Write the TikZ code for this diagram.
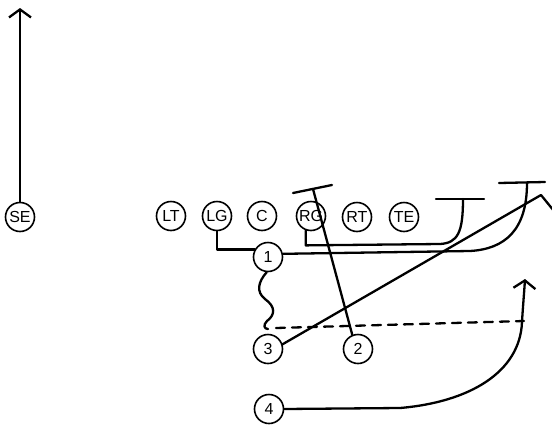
\documentclass[tikz,border=0pt]{standalone}
\usetikzlibrary{arrows.meta}
\usepackage{fontspec}
\setsansfont{Liberation Sans}
\begin{document}
\begin{tikzpicture}[x=1pt,y=-1pt,
  pl/.style={circle,draw,line width=1.6pt,minimum size=29pt,inner sep=0pt,
    font=\sffamily\fontsize{16}{16}\selectfont},
  rt/.style={line width=2.3pt,line cap=round,line join=round},
  chev/.style={-{Straight Barb[length=8pt,width=22pt,line width=2.3pt]}}]
\useasboundingbox[fill=white] (0,0) rectangle (552,429);
% players
\node[pl] (SE) at (20,217) {SE};
\node[pl] (LT) at (171,216) {LT};
\node[pl] (LG) at (217,216) {LG};
\node[pl] (C)  at (262,216) {C};
\node[pl] (RG) at (311,216) {RG};
\node[pl] (RT) at (357,217) {RT};
\node[pl] (TE) at (404,217) {TE};
\node[pl] (n1) at (268,257) {1};
\node[pl] (n3) at (268,349) {3};
\node[pl] (n2) at (358,349) {2};
\node[pl] (n4) at (269,409) {4};
% coordinates
\coordinate (seEnd) at (20,8);
\coordinate (tgA) at (436,199);
\coordinate (tgB) at (484,199);
\coordinate (tgS) at (463,199);
\coordinate (t1A) at (499,183);
\coordinate (t1B) at (545,182);
\coordinate (t1S) at (527,183);
\coordinate (t2A) at (293,193);
\coordinate (t2B) at (332,185);
\coordinate (t2S) at (313,189);
\coordinate (apex) at (541,195);
\coordinate (tail) at (554,211);
\coordinate (wv) at (268,329);
\coordinate (dA) at (276,328);
\coordinate (dB) at (524,321);
\coordinate (a4) at (525,279);
% SE route
\draw[rt,chev] (SE.north) -- (seEnd);
% LG block
\draw[rt] (LG.south) |- (n1.150);
% RG route
\draw[rt] (RG.250) -- ++(0,15) -- (440,244) .. controls (458,243) and (463,232) .. (tgS);
\draw[rt] (tgA) -- (tgB);
% 1 route
\draw[rt] (n1.12) -- (470,251) .. controls (505,249) and (527,230) .. (t1S);
\draw[rt] (t1A) -- (t1B);
% 2 route
\draw[rt] (n2.112) -- (t2S);
\draw[rt] (t2A) -- (t2B);
% 3 route
\draw[rt] (n3.18) -- (apex) -- (tail);
% motion
\draw[rt] (n1.265) .. controls (258,282) and (256,292) .. (265,299)
  .. controls (276,307) and (275,315) .. (267,321)
  .. controls (263,325) and (264,329) .. (wv);
\draw[rt,dash pattern=on 9pt off 7pt] (dA) -- (dB);
% 4 route
\draw[rt,chev] (n4.east) -- (400,408) .. controls (470,402) and (520,372) .. (522,322)
  .. controls (523,305) and (524,295) .. (a4);
\end{tikzpicture}
\end{document}
